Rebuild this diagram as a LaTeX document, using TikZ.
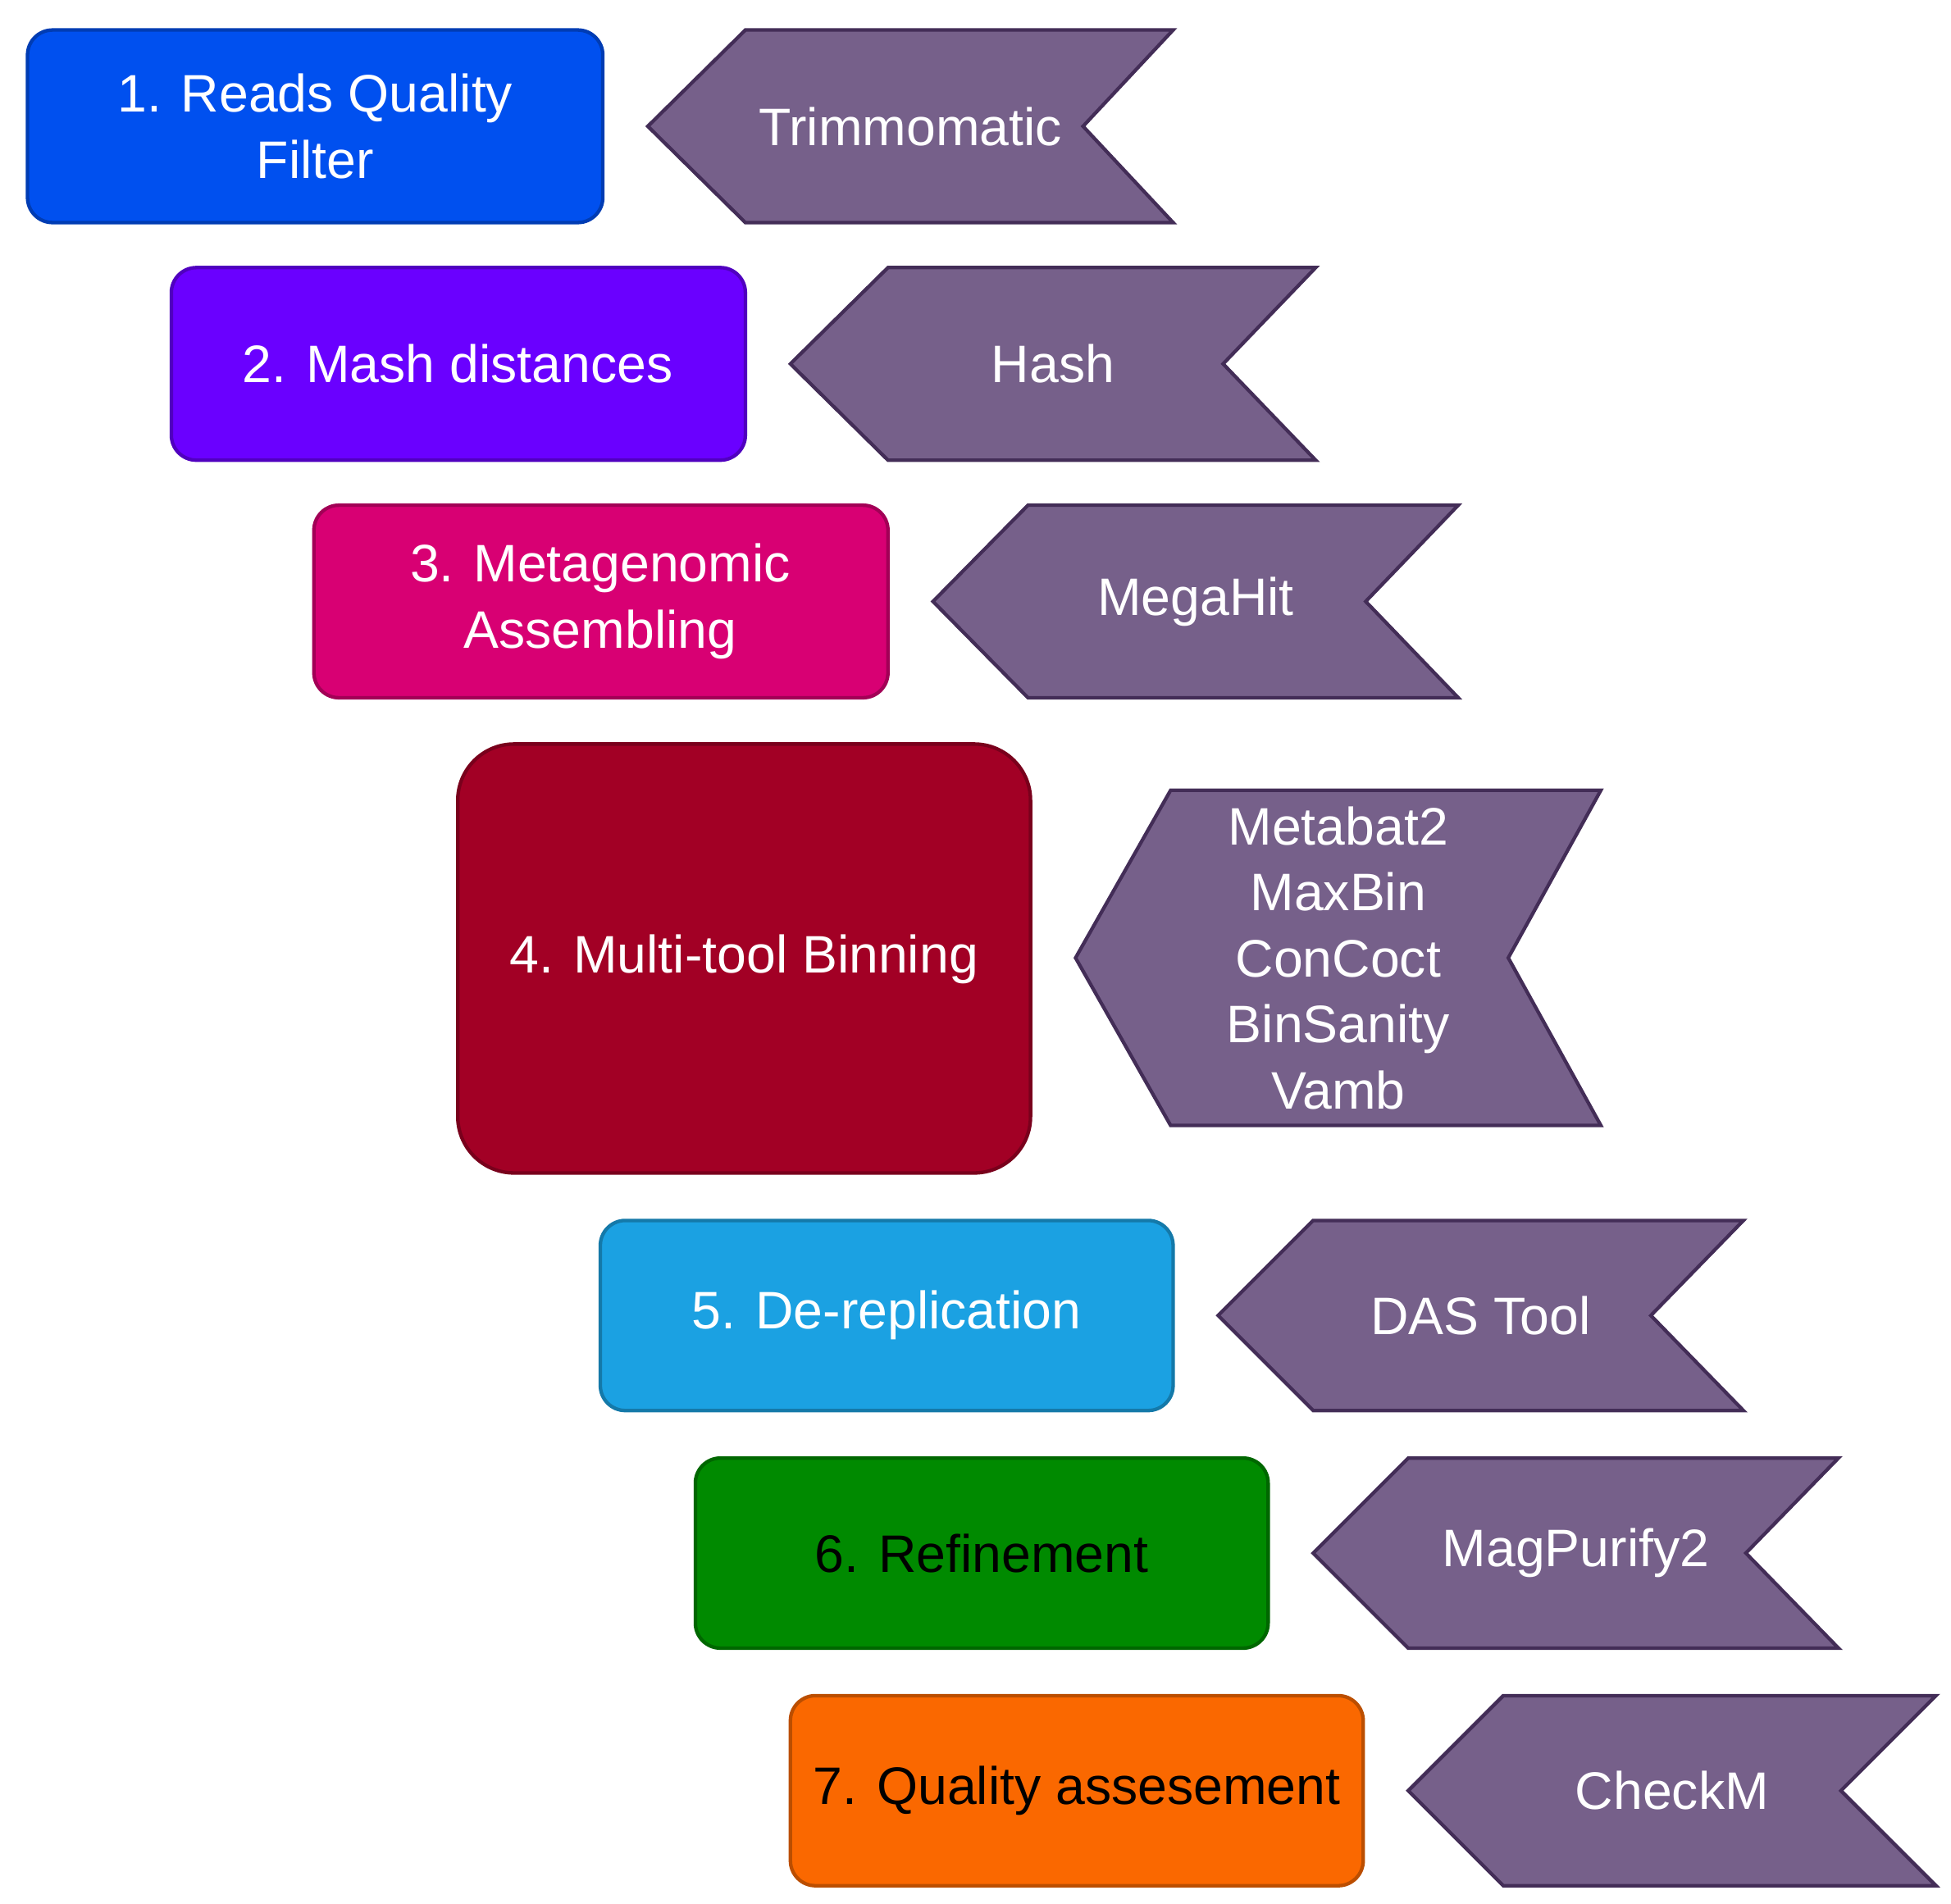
\documentclass[tikz,border=0pt]{standalone}
\usepackage{fontspec}
\setmainfont{Liberation Sans}
\definecolor{c1}{HTML}{0050EF}
\definecolor{c2}{HTML}{6A00FF}
\definecolor{c3}{HTML}{D80073}
\definecolor{c4}{HTML}{A20025}
\definecolor{c5}{HTML}{1BA1E2}
\definecolor{c6}{HTML}{008A00}
\definecolor{c7}{HTML}{FA6800}
\definecolor{afill}{HTML}{76608A}
\definecolor{astroke}{HTML}{432D57}
\begin{document}
\begin{tikzpicture}[x=0.01cm,y=-0.01cm,
  box/.style={draw=#1!75!black,fill=#1,line width=0.8pt,rounded corners=0.2cm,text=white,align=center,font=\fontsize{12}{15}\selectfont},
  arr/.style={draw=astroke,fill=afill,line width=0.8pt},
  atext/.style={text=white,align=center,font=\fontsize{12}{15}\selectfont}]
\useasboundingbox (0,0) rectangle (1560,1522);
\newcommand\mybox[7]{\draw[box=#1,#7] (#2,#3) rectangle (#4,#5) node[midway,box=#1,draw=none,fill=none,#7] (#6) {};}
\draw[box=c1] (22,24) rectangle (482,178);
\node[atext] (b1) at (252,101) {1. Reads Quality\\Filter};
\draw[box=c2] (137,214) rectangle (596,368);
\node[atext] (b2) at (366,291) {2. Mash distances};
\draw[box=c3] (251,404) rectangle (710,558);
\node[atext] (b3) at (480,481) {3. Metagenomic\\Assembling};
\draw[box=c4,rounded corners=0.45cm] (366,595) rectangle (824,938);
\node[atext] (b4) at (595,767) {4. Multi-tool Binning};
\draw[box=c5] (480,976) rectangle (938,1128);
\node[atext] (b5) at (709,1052) {5. De-replication};
\draw[box=c6] (556,1166) rectangle (1014,1318);
\node[atext,text=black] (b6) at (785,1242) {6. Refinement};
\draw[box=c7] (632,1356) rectangle (1090,1508);
\node[atext,text=black] (b7) at (861,1432) {7. Quality assesement};
% chevrons
\draw[arr] (518,101) -- (596,24) -- (938,24) -- (866,101) -- (938,178) -- (596,178) -- cycle;
\node[atext] (t1) at (728,101) {Trimmomatic};
\draw[arr] (632,291) -- (710,214) -- (1052,214) -- (978,291) -- (1052,368) -- (710,368) -- cycle;
\node[atext] (t2) at (842,291) {Hash};
\draw[arr] (746,481) -- (822,404) -- (1166,404) -- (1092,481) -- (1166,558) -- (822,558) -- cycle;
\node[atext] (t3) at (956,481) {MegaHit};
\draw[arr] (860,766) -- (936,632) -- (1280,632) -- (1206,766) -- (1280,900) -- (936,900) -- cycle;
\node[atext] (t4) at (1070,766) {Metabat2\\MaxBin\\ConCoct\\BinSanity\\Vamb};
\draw[arr] (974,1052) -- (1050,976) -- (1394,976) -- (1320,1052) -- (1394,1128) -- (1050,1128) -- cycle;
\node[atext] (t5) at (1184,1052) {DAS Tool};
\draw[arr] (1050,1242) -- (1126,1166) -- (1470,1166) -- (1396,1242) -- (1470,1318) -- (1126,1318) -- cycle;
\node[atext] (t6) at (1260,1242) {MagPurify2};
\draw[arr] (1126,1432) -- (1202,1356) -- (1548,1356) -- (1472,1432) -- (1548,1508) -- (1202,1508) -- cycle;
\node[atext] (t7) at (1337,1432) {CheckM};
\end{tikzpicture}
\end{document}
